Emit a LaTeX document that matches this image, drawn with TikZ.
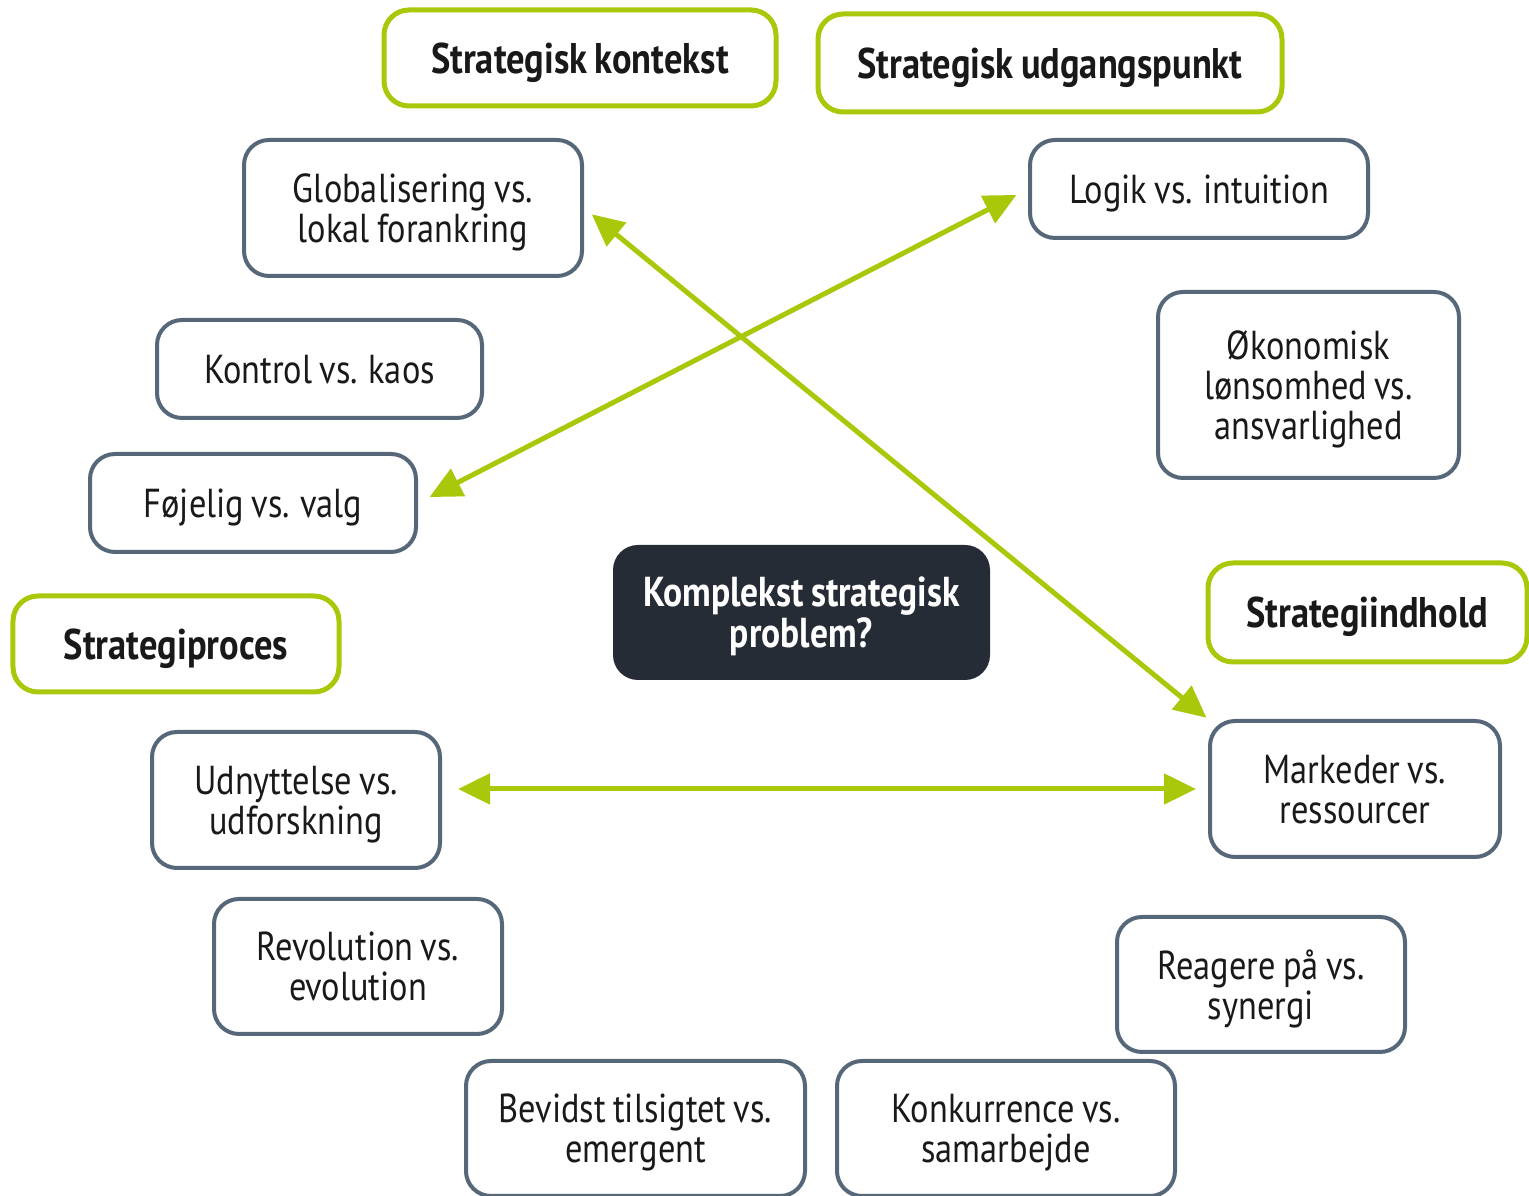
\documentclass[tikz,border=0pt]{standalone}
\usepackage{fontspec}
\setmainfont{PT Sans}[FakeStretch=0.85, WordSpace=0.8]
\usetikzlibrary{arrows.meta}
\definecolor{leaf}{RGB}{170,200,10}
\definecolor{slate}{RGB}{86,103,122}
\definecolor{ink}{RGB}{38,44,54}
\tikzset{
  % descenders are left out when a label is centred in its box
  boxtext/.style={align=center, inner sep=0pt, text depth=0pt},
  pole/.style={boxtext, draw=slate, line width=0.04cm, rounded corners=0.25cm, fill=white,
    font=\fontsize{11.5}{11.4}\selectfont, text=black!90},
  theme/.style={boxtext, draw=leaf, line width=0.05cm, rounded corners=0.25cm, fill=white,
    font=\fontsize{12.2}{11.6}\selectfont\bfseries, text=black!90},
  core/.style={boxtext, fill=ink, rounded corners=0.25cm,
    text=white, font=\fontsize{11.9}{11.6}\selectfont\bfseries},
  link/.style={draw=leaf, line width=0.05cm,
    {Triangle[length=0.32cm,width=0.3cm]}-{Triangle[length=0.32cm,width=0.3cm]}}
}
\begin{document}
\begin{tikzpicture}
\useasboundingbox (0,0) rectangle (15.29,-11.96);

% theme headings
\node[theme, minimum width=3.92cm, minimum height=0.96cm] (ctx) at (5.80,-0.58) {Strategisk kontekst};
\node[theme, minimum width=4.64cm, minimum height=0.98cm] (start) at (10.50,-0.63) {Strategisk udgangspunkt};
\node[theme, minimum width=3.19cm, minimum height=0.99cm] (content) at (13.675,-6.125) {Strategiindhold};
\node[theme, minimum width=3.26cm, minimum height=0.96cm] (process) at (1.76,-6.44) {Strategiproces};

% central question
\node[core, minimum width=3.77cm, minimum height=1.35cm] (problem) at (8.015,-6.125) {Komplekst strategisk\\problem?};

% paradox pairs
\node[pole, minimum width=3.38cm, minimum height=1.36cm] (glob) at (4.13,-2.08) {Globalisering vs.\\lokal forankring};
\node[pole, minimum width=3.38cm, minimum height=0.98cm] (logic) at (11.99,-1.89) {Logik vs. intuition};
\node[pole, minimum width=3.25cm, minimum height=0.98cm] (control) at (3.195,-3.69) {Kontrol vs. kaos};
\node[pole, minimum width=3.01cm, minimum height=1.86cm] (econ) at (13.085,-3.85) {Økonomisk\\lønsomhed vs.\\ansvarlighed};
\node[pole, minimum width=3.26cm, minimum height=0.98cm] (comply) at (2.53,-5.03) {Føjelig vs. valg};
\node[pole, minimum width=2.88cm, minimum height=1.36cm] (exploit) at (2.96,-8.00) {Udnyttelse vs.\\udforskning};
\node[pole, minimum width=2.90cm, minimum height=1.36cm] (market) at (13.55,-7.89) {Markeder vs.\\ressourcer};
\node[pole, minimum width=2.88cm, minimum height=1.35cm] (revol) at (3.58,-9.665) {Revolution vs.\\evolution};
\node[pole, minimum width=2.88cm, minimum height=1.35cm] (react) at (12.61,-9.845) {Reagere på vs.\\synergi};
\node[pole, minimum width=3.39cm, minimum height=1.35cm] (delib) at (6.355,-11.285) {Bevidst tilsigtet vs.\\emergent};
\node[pole, minimum width=3.38cm, minimum height=1.35cm] (compet) at (10.06,-11.285) {Konkurrence vs.\\samarbejde};

% tensions between pairs
\draw[link, shorten <=0.1cm, shorten >=0.02cm] (glob.east) -- (market.north west);
\draw[link, shorten <=0.13cm, shorten >=0.13cm] (logic.west) -- (comply.east);
\draw[link, shorten <=0.16cm, shorten >=0.12cm] (exploit.east |- market) -- (market.west);
\end{tikzpicture}
\end{document}
